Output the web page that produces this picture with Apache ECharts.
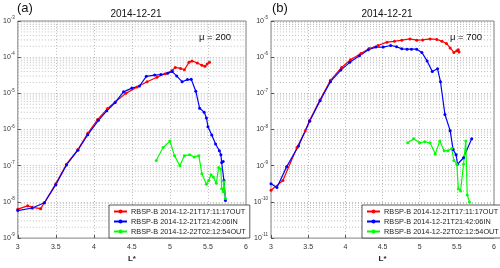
<!DOCTYPE html>
<html><head><meta charset="utf-8">
<script src="https://cdn.jsdelivr.net/npm/echarts@6/dist/echarts.min.js"></script>
<style>html,body{margin:0;padding:0;background:#fff}#c{width:500px;height:268px}</style>
</head><body><div id="c"></div>
<script>
var seriesNames = ['RBSP-B 2014-12-21T17:11:17OUT','RBSP-B 2014-12-21T21:42:06IN','RBSP-B 2014-12-22T02:12:54OUT'];
var xTicks = [3, 3.5, 4, 4.5, 5, 5.5, 6];
var minorMult = [2,3,4,5,6,7,8,9];

// Panel (a), mu = 200
var aRedL = [3.0,3.13,3.19,3.30,3.35,3.5,3.64,3.79,3.92,4.05,4.18,4.28,4.42,4.57,4.70,4.83,4.94,5.03,5.07,5.14,5.19,5.25,5.29,5.36,5.42,5.46,5.49,5.52];
var aRedF = [6.3e-9,7.8e-9,7.1e-9,6.5e-9,9.5e-9,3.2e-8,1.1e-7,2.8e-7,7.9e-7,1.9e-6,3.8e-6,5.75e-6,1.0e-5,1.5e-5,2.1e-5,2.8e-5,3.5e-5,4.3e-5,5.2e-5,4.9e-5,4.5e-5,7.2e-5,7.9e-5,6.9e-5,6.0e-5,5.6e-5,6.5e-5,7.2e-5];
var aBlueL = [3.0,3.19,3.35,3.5,3.64,3.79,3.92,4.06,4.17,4.28,4.39,4.50,4.60,4.69,4.80,4.88,4.97,5.03,5.09,5.16,5.23,5.28,5.34,5.39,5.45,5.48,5.50,5.55,5.60,5.65,5.67,5.68,5.70,5.71,5.73];
var aBlueF = [5.75e-9,6.8e-9,9.5e-9,3.0e-8,1.05e-7,2.7e-7,7.2e-7,1.8e-6,3.3e-6,5.6e-6,1.1e-5,1.4e-5,1.6e-5,2.95e-5,3.2e-5,3.3e-5,3.6e-5,4.0e-5,3.0e-5,2.1e-5,2.4e-5,2.45e-5,1.15e-5,3.9e-6,3.0e-6,2.1e-6,1.2e-6,7.1e-7,4.0e-7,2.6e-7,2.0e-7,1.23e-7,1.3e-7,3.9e-8,1.1e-8];
var aGreenL = [4.82,4.91,5.0,5.06,5.13,5.19,5.26,5.32,5.38,5.42,5.48,5.51,5.54,5.57,5.61,5.64,5.67,5.68,5.70,5.71,5.73];
var aGreenF = [1.4e-7,3.2e-7,4.8e-7,1.9e-7,1.0e-7,1.9e-7,2.0e-7,1.75e-7,1.9e-7,6.0e-8,3.1e-8,3.9e-8,5.6e-8,4.9e-8,3.3e-8,8.9e-8,8.1e-8,2.3e-8,1.9e-8,3.6e-8,1.26e-8];

// Panel (b), mu = 700
var bRedL = [3.0,3.16,3.35,3.46,3.52,3.66,3.80,3.95,4.07,4.21,4.32,4.44,4.56,4.66,4.76,4.87,4.96,5.04,5.14,5.23,5.30,5.36,5.41,5.46,5.50,5.52,5.53];
var bRedF = [2.1e-10,3.9e-10,3.2e-9,9.1e-9,1.8e-8,6.6e-8,2.3e-7,5.2e-7,8.5e-7,1.26e-6,1.74e-6,2.1e-6,2.6e-6,2.75e-6,2.95e-6,3.2e-6,2.95e-6,3.0e-6,3.2e-6,3.1e-6,2.75e-6,2.4e-6,1.8e-6,1.35e-6,1.5e-6,1.6e-6,1.4e-6];
var bBlueL = [3.0,3.08,3.21,3.37,3.52,3.66,3.80,3.94,4.06,4.19,4.31,4.41,4.51,4.61,4.69,4.76,4.83,4.89,4.96,5.03,5.10,5.17,5.24,5.28,5.34,5.41,5.45,5.49,5.51,5.59,5.70];
var bBlueF = [3.2e-10,2.5e-10,9.3e-10,3.5e-9,1.7e-8,6.3e-8,2.1e-7,4.4e-7,7.2e-7,1.1e-6,1.6e-6,1.9e-6,1.9e-6,2.1e-6,1.95e-6,1.7e-6,1.66e-6,1.66e-6,1.66e-6,1.35e-6,7.9e-7,4.0e-7,4.8e-7,2.1e-7,2.6e-8,9.3e-9,2.8e-9,2.0e-9,1.1e-9,1.66e-9,5.6e-9];
var bGreenL = [4.84,4.92,5.0,5.07,5.14,5.21,5.27,5.33,5.38,5.43,5.46,5.50,5.52,5.55,5.59,5.62,5.64,5.67];
var bGreenF = [4.3e-9,5.6e-9,4.3e-9,4.6e-9,4.3e-9,2.1e-9,4.8e-9,2.6e-9,2.6e-9,3.0e-9,1.4e-9,1.1e-9,2.3e-10,2.0e-10,1.1e-9,4.8e-9,1.55e-10,1.0e-10];

var yRangeA = [1e-9, 1e-3];
var yRangeB = [1e-11, 1e-5];
var colors = ['#ff0000','#0000ff','#00ff00'];

function pairs(L, F){ return L.map(function(l,i){ return [l, F[i]]; }); }
function minorValues(range){
  var out = [];
  var lo = Math.round(Math.log10(range[0])), hi = Math.round(Math.log10(range[1]));
  for (var e = lo; e < hi; e++) minorMult.forEach(function(m){ out.push([m*Math.pow(10,e)]); });
  return out;
}
var gridLine = {color:'#b0b0b0', width:0.8, type:[1,2]};

function xAxis(idx){
  return {type:'value', gridIndex:idx, min:xTicks[0], max:xTicks[xTicks.length-1], interval:0.5,
    name:'L*', nameLocation:'middle', nameGap:15,
    nameTextStyle:{fontSize:8, fontWeight:'bold', color:'#222', fontFamily:'Liberation Sans'},
    axisLine:{show:false}, axisTick:{show:true, inside:true, length:3, lineStyle:{color:'#555'}},
    axisLabel:{fontSize:7, color:'#333', margin:5, fontFamily:'Liberation Sans',
      formatter:function(v){ return String(v); }},
    splitLine:{show:true, lineStyle:gridLine}};
}
function yAxis(idx, range){
  return {type:'log', logBase:10, gridIndex:idx, min:range[0], max:range[1], splitNumber:6,
    axisLine:{show:false}, axisTick:{show:true, inside:true, length:3, lineStyle:{color:'#555'}},
    axisLabel:{margin:3, fontFamily:'Liberation Sans',
      formatter:function(v){ return '{b|10}{e|' + Math.round(Math.log10(v)) + '}'; },
      rich:{b:{fontSize:7, color:'#333', fontFamily:'Liberation Sans'},
            e:{fontSize:4.5, color:'#333', fontFamily:'Liberation Sans', padding:[0,0,6,0]}}},
    splitLine:{show:true, lineStyle:gridLine}};
}
function lineSeries(name, data, idx, color){
  return {type:'line', name:name, xAxisIndex:idx, yAxisIndex:idx, data:data,
    symbol:'circle', symbolSize:3, showSymbol:true,
    lineStyle:{color:color, width:1.2}, itemStyle:{color:color}, z:5, animation:false};
}
// minor (log) horizontal grid lines drawn through the axis scales
function minorSeries(idx, range){
  return {type:'custom', name:'_minor'+idx, xAxisIndex:idx, yAxisIndex:idx, silent:true, z:1,
    data:minorValues(range), encode:{y:0}, animation:false, clip:true,
    renderItem:function(params, api){
      var v = api.value(0);
      var p1 = api.coord([xTicks[0], v]);
      var p2 = api.coord([xTicks[xTicks.length-1], v]);
      return {type:'line', shape:{x1:p1[0], y1:p1[1], x2:p2[0], y2:p2[1]},
        style:{stroke:gridLine.color, lineWidth:gridLine.width, lineDash:gridLine.type}};
    }};
}
function legend(left, width){
  return {show:true, orient:'vertical', left:left, top:205, width:width,
    data:seriesNames, backgroundColor:'#fff', borderColor:'#333', borderWidth:0.8,
    padding:[3,4,3,4], itemGap:3, itemWidth:13, itemHeight:5,
    textStyle:{fontSize:7.3, color:'#222', fontFamily:'Liberation Sans', padding:[0,0,0,-1]},
    selectedMode:false, z:20};
}

var chart = echarts.init(document.getElementById('c'), null, {renderer:'canvas'});
chart.setOption({
  animation:false,
  backgroundColor:'#fff',
  grid:[
    {left:17, right:254, top:21, bottom:24, show:true, borderColor:'#666', borderWidth:0.8, backgroundColor:'transparent'},
    {left:271, right:6, top:21, bottom:24, show:true, borderColor:'#666', borderWidth:0.8, backgroundColor:'transparent'}
  ],
  title:[
    {text:'2014-12-21', left:131, top:4, textAlign:'center', textStyle:{fontSize:10, fontWeight:'normal', color:'#111', fontFamily:'Liberation Sans'}},
    {text:'2014-12-21', left:382, top:4, textAlign:'center', textStyle:{fontSize:10, fontWeight:'normal', color:'#111', fontFamily:'Liberation Sans'}}
  ],
  graphic:[
    {type:'text', left:17, top:2, style:{text:'(a)', fontSize:13, fill:'#111', fontFamily:'Liberation Sans'}},
    {type:'text', left:272, top:2, style:{text:'(b)', fontSize:13, fill:'#111', fontFamily:'Liberation Sans'}},
    {type:'text', left:199, top:32, z:30, style:{text:'μ = 200', fontSize:9.5, fill:'#111', fontFamily:'Liberation Sans'}},
    {type:'text', left:450, top:32, z:30, style:{text:'μ = 700', fontSize:9.5, fill:'#111', fontFamily:'Liberation Sans'}}
  ],
  legend:[legend(109, 130), legend(362, 125)],
  xAxis:[xAxis(0), xAxis(1)],
  yAxis:[yAxis(0, yRangeA), yAxis(1, yRangeB)],
  series:[
    minorSeries(0, yRangeA), minorSeries(1, yRangeB),
    lineSeries(seriesNames[0], pairs(aRedL,aRedF), 0, colors[0]),
    lineSeries(seriesNames[1], pairs(aBlueL,aBlueF), 0, colors[1]),
    lineSeries(seriesNames[2], pairs(aGreenL,aGreenF), 0, colors[2]),
    lineSeries(seriesNames[0], pairs(bRedL,bRedF), 1, colors[0]),
    lineSeries(seriesNames[1], pairs(bBlueL,bBlueF), 1, colors[1]),
    lineSeries(seriesNames[2], pairs(bGreenL,bGreenF), 1, colors[2])
  ]
});
</script></body></html>
